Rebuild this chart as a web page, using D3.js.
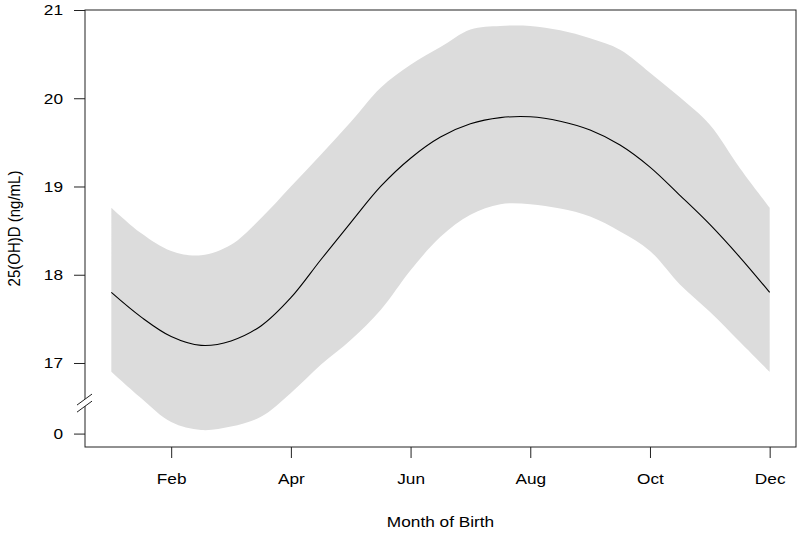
<!DOCTYPE html>
<html>
<head>
<meta charset="utf-8">
<script src="https://cdn.jsdelivr.net/npm/d3@7"></script>
<style>
  html, body { margin: 0; padding: 0; background: #fff; }
  svg { display: block; }
  text { font-family: "Liberation Sans", Arial, Helvetica, sans-serif; fill: #000; }
</style>
</head>
<body>
<svg id="chart" width="800" height="534"></svg>
<script>
// Month positions (1 = Jan ... 12 = Dec), sampled every half month
const months = [1, 1.5, 2, 2.5, 3, 3.5, 4, 4.5, 5, 5.5, 6, 6.5, 7, 7.5, 8, 8.5, 9, 9.5, 10, 10.5, 11, 11.5, 12];
// Fitted 25(OH)D (ng/mL)
const fitValues = [17.80, 17.52, 17.30, 17.20, 17.25, 17.42, 17.74, 18.17, 18.59, 19.00, 19.32, 19.56, 19.71, 19.78, 19.79, 19.74, 19.64, 19.47, 19.22, 18.90, 18.57, 18.20, 17.80];
// Confidence band
const upperValues = [18.76, 18.47, 18.27, 18.22, 18.34, 18.64, 19.00, 19.36, 19.73, 20.12, 20.38, 20.58, 20.78, 20.82, 20.82, 20.77, 20.68, 20.55, 20.29, 20.01, 19.70, 19.21, 18.76];
const lowerValues = [16.90, 16.60, 16.33, 16.24, 16.28, 16.39, 16.66, 16.98, 17.26, 17.60, 18.05, 18.43, 18.68, 18.80, 18.80, 18.75, 18.66, 18.49, 18.27, 17.89, 17.58, 17.24, 16.90];

// Axis ticks
const xTickValues = [2, 4, 6, 8, 10, 12];
const xTickLabels = ["Feb", "Apr", "Jun", "Aug", "Oct", "Dec"];
// The "0" label sits below the axis break
const yTickValues = [16.2, 17, 18, 19, 20, 21];
const yTickLabels = ["0", "17", "18", "19", "20", "21"];

const xTitle = "Month of Birth";
const yTitle = "25(OH)D (ng/mL)";

const pLeft = 85, pRight = 796, pTop = 10, pBottom = 447;
const sx = 1.15;   // horizontal stretch of the lettering
const fs = 15;
const svg = d3.select("#chart");

const x = d3.scaleLinear().domain([0.56, 12.44]).range([pLeft, pRight]);
const y = d3.scaleLinear().domain([16.048, 21]).range([pBottom, pTop]);

const data = months.map((m, i) => ({ m, fit: fitValues[i], lo: lowerValues[i], hi: upperValues[i] }));
const curve = d3.curveCatmullRom.alpha(0.5);

// Band
svg.append("path")
  .datum(data)
  .attr("fill", "#dcdcdc")
  .attr("d", d3.area()
    .x(d => x(d.m))
    .y0(d => y(d.lo))
    .y1(d => y(d.hi))
    .curve(curve));

// Fitted line
svg.append("path")
  .datum(data)
  .attr("fill", "none")
  .attr("stroke", "#000")
  .attr("stroke-width", 1.1)
  .attr("d", d3.line()
    .x(d => x(d.m))
    .y(d => y(d.fit))
    .curve(curve));

// Box
svg.append("rect")
  .attr("x", pLeft).attr("y", pTop)
  .attr("width", pRight - pLeft).attr("height", pBottom - pTop)
  .attr("fill", "none").attr("stroke", "#222").attr("stroke-width", 1);

// X axis
const xAxis = d3.axisBottom(x)
  .tickValues(xTickValues)
  .tickFormat((d, i) => xTickLabels[i])
  .tickSize(11)
  .tickPadding(15);
const gx = svg.append("g").attr("transform", `translate(0,${pBottom})`).call(xAxis);
gx.select(".domain").remove();
gx.selectAll(".tick line").attr("stroke", "#222");
gx.selectAll(".tick text")
  .attr("font-size", fs)
  .attr("transform", `scale(${sx},1)`)
  .style("font-family", "'Liberation Sans', Arial, sans-serif");

// Y axis
const yAxis = d3.axisLeft(y)
  .tickValues(yTickValues)
  .tickFormat((d, i) => yTickLabels[i])
  .tickSize(11)
  .tickPadding(11);
const gy = svg.append("g").attr("transform", `translate(${pLeft},0)`).call(yAxis);
gy.select(".domain").remove();
gy.selectAll(".tick line").attr("stroke", "#222");
gy.selectAll(".tick text")
  .attr("font-size", fs)
  .attr("x", -22 / sx)
  .attr("transform", `scale(${sx},1)`)
  .style("font-family", "'Liberation Sans', Arial, sans-serif");

// Axis break marks
const bA = y(16.58), bB = y(16.50);
svg.append("polygon")
  .attr("points", `${pLeft-8},${bA+5} ${pLeft+7},${bA-6} ${pLeft+7},${bB-6} ${pLeft-8},${bB+5}`)
  .attr("fill", "#fff");
[bA, bB].forEach(yy => {
  svg.append("line")
    .attr("x1", pLeft - 8).attr("y1", yy + 5)
    .attr("x2", pLeft + 7).attr("y2", yy - 6)
    .attr("stroke", "#222").attr("stroke-width", 1);
});

// Titles
svg.append("text")
  .attr("transform", `translate(${(pLeft + pRight) / 2},527) scale(${sx},1)`)
  .attr("text-anchor", "middle").attr("font-size", fs)
  .text(xTitle);
svg.append("text")
  .attr("transform", `translate(20,${(pTop + pBottom) / 2}) rotate(-90) scale(1,${sx})`)
  .attr("text-anchor", "middle").attr("font-size", fs)
  .text(yTitle);
</script>
</body>
</html>
